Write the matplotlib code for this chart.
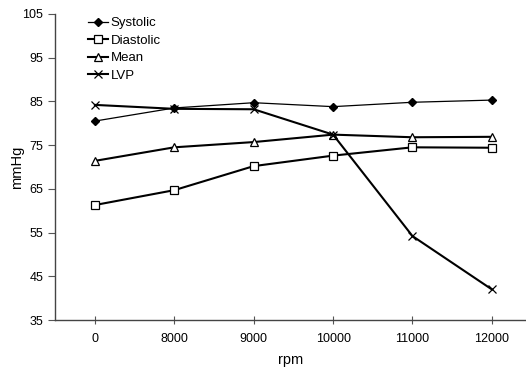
import matplotlib
matplotlib.use("Agg")
import matplotlib.pyplot as plt

plt.rcParams['font.family'] = ['Liberation Sans', 'DejaVu Sans']

# data
rpm_labels = ["0", "8000", "9000", "10000", "11000", "12000"]
systolic = [80.5, 83.5, 84.7, 83.8, 84.8, 85.3]
diastolic = [61.3, 64.7, 70.2, 72.6, 74.5, 74.4]
mean_p = [71.4, 74.5, 75.7, 77.4, 76.8, 76.9]
lvp = [84.2, 83.3, 83.2, 77.4, 54.2, 42.0]

x = range(len(rpm_labels))

fig = plt.figure(figsize=(5.26, 3.67), dpi=100)
ax = fig.add_axes([0.105, 0.128, 0.895, 0.834])

ax.plot(x, systolic, color="black", lw=0.9, marker="D", ms=4.5, mfc="black", label="Systolic")
ax.plot(x, diastolic, color="black", lw=1.5, marker="s", ms=5.5, mfc="white", mew=0.9, label="Diastolic")
ax.plot(x, mean_p, color="black", lw=1.5, marker="^", ms=5.5, mfc="white", mew=0.9, label="Mean")
ax.plot(x, lvp, color="black", lw=1.5, marker="x", ms=6, mew=0.9, label="LVP")

ax.set_xlim(-0.5, 5.43)
ax.set_ylim(35, 105)
ax.set_yticks(range(35, 106, 10))
ax.set_xticks(list(x))
ax.set_xticklabels(rpm_labels)
ax.tick_params(axis="both", labelsize=9, width=0.8, color="#555555")
ax.tick_params(axis="x", direction="inout", length=6, pad=6)
ax.tick_params(axis="y", direction="out", length=5)

for side in ["top", "right"]:
    ax.spines[side].set_visible(False)
for side in ["left", "bottom"]:
    ax.spines[side].set_color("#444444")
    ax.spines[side].set_linewidth(1.0)

ax.set_xlabel("rpm", fontsize=10.5, labelpad=6)
ax.set_ylabel("mmHg", fontsize=10.5, labelpad=-1)

ax.legend(loc="upper left", bbox_to_anchor=(0.05, 1.02), frameon=False, fontsize=9.5,
          handlelength=1.5, handletextpad=0.2, labelspacing=0.4, borderpad=0.2)

fig.savefig("out.png", dpi=100)
